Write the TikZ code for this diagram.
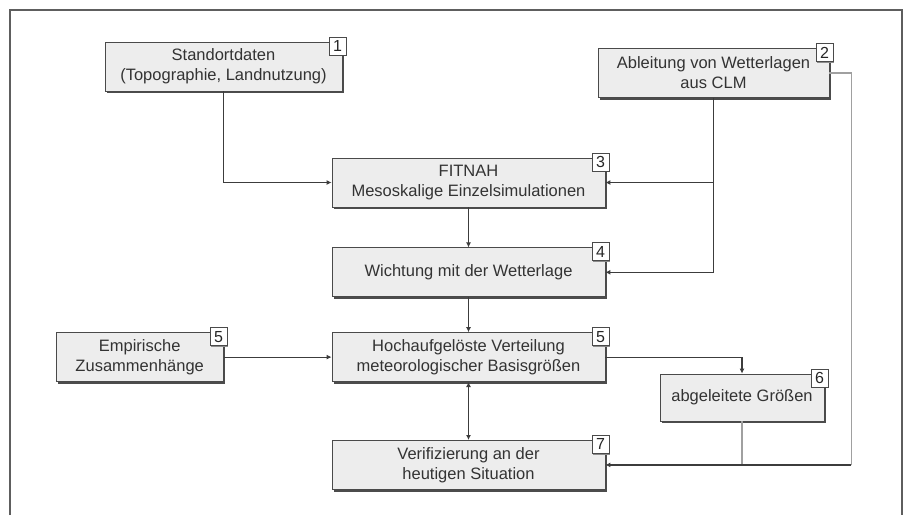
\documentclass[tikz,border=0pt]{standalone}
\usepackage{fontspec}
\setmainfont{Liberation Sans}
\usetikzlibrary{arrows.meta,positioning,shadows,calc}
\definecolor{boxFill}{HTML}{EDEDED}
\definecolor{boxDraw}{HTML}{4A4A4A}
\definecolor{lineDark}{HTML}{3C3C3C}
\definecolor{lineLight}{HTML}{A0A0A0}
\definecolor{frameDraw}{HTML}{5E5E5E}
\tikzset{
  box/.style ={draw=boxDraw, fill=boxFill, line width=0.8pt, align=center, inner sep=3pt,
               minimum height=49pt, text=black!80, font=\fontsize{16.5}{20}\selectfont,
               drop shadow={shadow xshift=2.2pt, shadow yshift=-2.2pt, fill=black!70, opacity=1}},
  tag/.style ={draw=boxDraw, fill=white, line width=0.9pt, inner sep=0pt, minimum width=17pt,
               minimum height=18pt, text=black!85, font=\fontsize{16}{16}\selectfont,
               drop shadow={shadow xshift=1.2pt, shadow yshift=-1.2pt, fill=black!45, opacity=1}},
  arr/.style ={-{Latex[length=5pt,width=5pt]}, line width=1.2pt, draw=lineDark},
  darr/.style={{Latex[length=5pt,width=5pt]}-{Latex[length=5pt,width=5pt]}, line width=1.2pt, draw=lineDark},
  gline/.style={line width=1.2pt, draw=lineLight},
}

\begin{document}
\begin{tikzpicture}[x=1pt, y=-1pt]
  \useasboundingbox (0,0) rectangle (909,515);
  % outer frame, open at the bottom
  \draw[frameDraw, line width=1.5pt] (10,515) -- (10,10) -- (902,10) -- (902,515);

  % main column
  \node[box, minimum width=273pt] (fitnah) at (468.5,182.5) {FITNAH\\Mesoskalige Einzelsimulationen};
  \node[box, minimum width=273pt, below=40pt of fitnah] (wichtung) {Wichtung mit der Wetterlage};
  \node[box, minimum width=273pt, below=35pt of wichtung] (verteil) {Hochaufgelöste Verteilung\\meteorologischer Basisgrößen};
  \node[box, minimum width=273pt, below=58pt of verteil] (verif) {Verifizierung an der\\heutigen Situation};

  % inputs and side boxes
  \node[box, minimum width=237pt] (site) at (223.5,66.5) {Standortdaten\\(Topographie, Landnutzung)};
  \node[box, minimum width=231pt] (wetter) at (713.5,73) {Ableitung von Wetterlagen\\aus CLM};
  \node[box, minimum width=167pt, left=108pt of verteil] (emp) {Empirische\\Zusammenhänge};
  \node[box, minimum width=164pt, minimum height=47pt] (abgel) at (742,397.5) {abgeleitete Größen};

  % number tags
  \foreach \b/\n in {site/1, wetter/2, fitnah/3, wichtung/4, emp/5, verteil/5, abgel/6, verif/7}
    \node[tag, anchor=north east] (tag-\b) at ([xshift=4pt, yshift=5pt]\b.north east) {\n};

  % connectors
  \draw[arr] (site.south) |- (fitnah.west);
  \draw[arr] (wetter.south) |- (wichtung.east);
  \draw[arr] (wetter.south |- fitnah.east) -- (fitnah.east);
  \draw[arr] (fitnah) -- (wichtung);
  \draw[arr] (wichtung) -- (verteil);
  \draw[arr] (emp) -- (verteil);
  \draw[arr] (verteil.east) -| (abgel.north);
  \draw[darr] (verteil) -- (verif);

  % return lines to the verification
  \coordinate (rtop) at ([xshift=22pt]wetter.east);
  \coordinate (rbot) at (rtop |- verif.east);
  \coordinate (ajoin) at (abgel.south |- verif.east);
  \draw[gline] (wetter.east) -- (rtop) -- (rbot);
  \draw[gline] (abgel.south) -- (ajoin);
  \draw[arr] (rbot) -- (verif.east);
\end{tikzpicture}
\end{document}
